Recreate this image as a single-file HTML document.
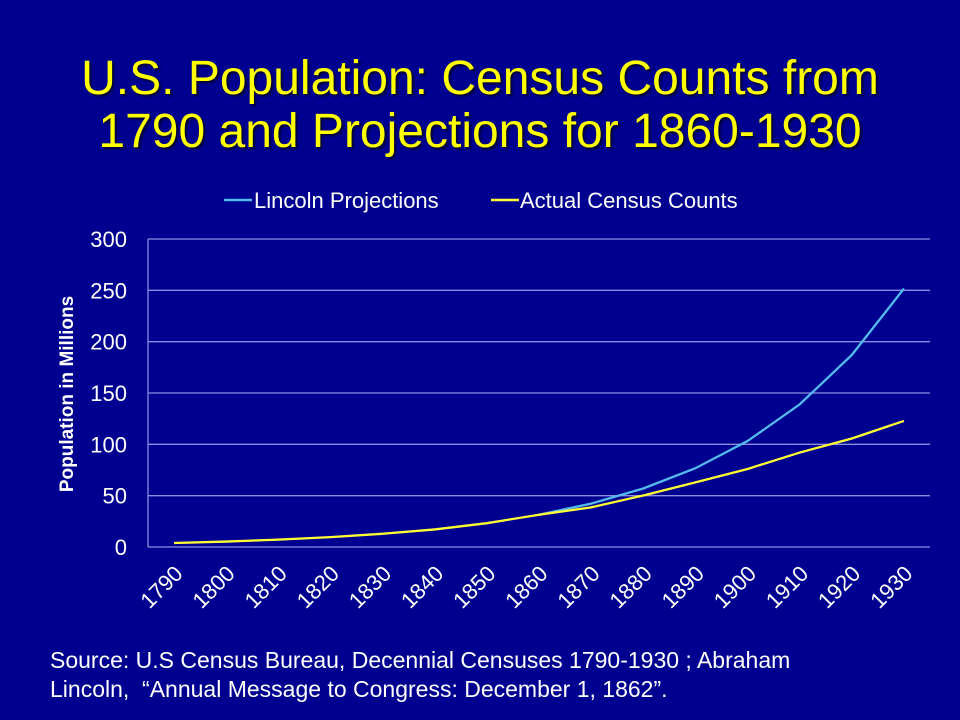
<!DOCTYPE html>
<html><head><meta charset="utf-8"><style>
html,body{margin:0;padding:0;}
body{width:960px;height:720px;background:#000090;overflow:hidden;position:relative;font-family:"Liberation Sans",Arial,sans-serif;}
#title{position:absolute;left:0;top:52px;width:960px;text-align:center;color:#ffff00;font-size:48px;line-height:53px;text-shadow:2px 2px 2px #000033;}
#source{position:absolute;left:50px;top:646px;color:#fff;font-size:23px;line-height:29px;}
svg{position:absolute;left:0;top:0;}
</style></head><body>
<div id="title">U.S. Population: Census Counts from<br>1790 and Projections for 1860-1930</div>
<svg id="chart" width="960" height="720"></svg>
<div id="source">Source: U.S Census Bureau, Decennial Censuses 1790-1930 ; Abraham<br>Lincoln,&nbsp; “Annual Message to Congress: December 1, 1862”.</div>
<script>
const categories=["1790","1800","1810","1820","1830","1840","1850","1860","1870","1880","1890","1900","1910","1920","1930"];
const actualCounts=[3.9,5.3,7.2,9.6,12.9,17.1,23.2,31.4,38.6,50.2,62.9,76.0,92.0,105.7,122.8];
const lincolnProjections=[null,null,null,null,null,null,null,31.4,42.3,57.0,76.7,103.2,138.9,187.0,251.7];
const yTicks=[0,50,100,150,200,250,300];
const NS="http://www.w3.org/2000/svg";
const svg=document.getElementById('chart');
const L=148,R=930,T=239,B=547,yMax=300;
const band=(R-L)/categories.length;
function x(i){return L+band*(i+0.5);}
function y(v){return B-(v/yMax)*(B-T);}
function mk(tag,attrs){const e=document.createElementNS(NS,tag);for(const k in attrs)e.setAttribute(k,attrs[k]);svg.appendChild(e);return e;}
yTicks.forEach(v=>{
  const g=mk('line',{x1:L,x2:R,y1:y(v),y2:y(v),stroke:'#8c8ce0','stroke-width':1.3});
  
  
  const t=mk('text',{x:127,y:y(v)+8,'text-anchor':'end',fill:'#fff','font-size':22,'font-family':'Liberation Sans, sans-serif'});
  t.textContent=v;
  
  
});
const ax=mk('line',{x1:L,x2:L,y1:T,y2:B,stroke:'#8c8ce0','stroke-width':1.3});


categories.forEach((c,i)=>{
  const t=mk('text',{transform:`translate(${x(i)+10},${B+28}) rotate(-45)`,'text-anchor':'end',fill:'#fff','font-size':22,'font-family':'Liberation Sans, sans-serif'});
  t.textContent=c;
  
  
});
const yt=mk('text',{transform:`translate(73,394) rotate(-90)`,'text-anchor':'middle',fill:'#fff','font-size':19,'font-weight':'bold','font-family':'Liberation Sans, sans-serif'});
yt.textContent='Population in  Millions';


function path(arr){let d='';arr.forEach((v,i)=>{if(v==null)return;d+=(d?'L':'M')+x(i)+','+y(v);});return d;}
const lp=mk('path',{d:path(lincolnProjections),fill:'none',stroke:'#55bbee','stroke-width':2.3});


const ap=mk('path',{d:path(actualCounts),fill:'none',stroke:'#ffff33','stroke-width':2.3});


const l1=mk('line',{x1:224,x2:252,y1:200,y2:200,stroke:'#55bbee','stroke-width':2.5});


const t1=mk('text',{x:254,y:208,fill:'#fff','font-size':22,'font-family':'Liberation Sans, sans-serif'});
t1.textContent='Lincoln Projections';


const l2=mk('line',{x1:491,x2:519,y1:200,y2:200,stroke:'#ffff33','stroke-width':2.5});


const t2=mk('text',{x:520,y:208,fill:'#fff','font-size':22,'font-family':'Liberation Sans, sans-serif'});
t2.textContent='Actual Census Counts';


</script>
</body></html>
